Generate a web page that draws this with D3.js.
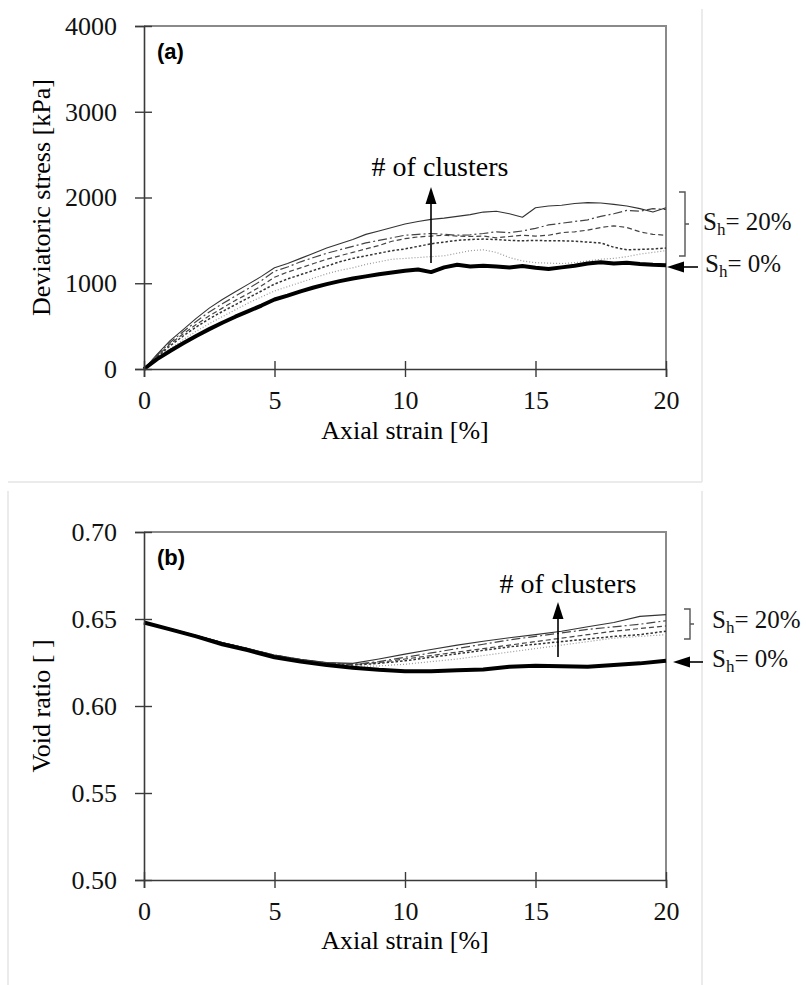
<!DOCTYPE html>
<html>
<head>
<meta charset="utf-8">
<script src="https://cdn.jsdelivr.net/npm/d3@7"></script>
<style>
body { margin: 0; background: #fff; }
svg { display: block; }
</style>
</head>
<body>
<svg id="canvas" width="806" height="985"></svg>
<script>
// strain values used for panel (a) curves
var strain_a = [0,0.5,1,1.5,2,2.5,3,3.5,4,4.5,5,5.5,6,6.5,7,7.5,8,8.5,9,9.5,10,
    10.5,11,11.5,12,12.5,13,13.5,14,14.5,15,15.5,16,16.5,17,17.5,18,18.5,19,19.5,20];

// deviatoric stress [kPa]
var stress_sh0 = [0,115,210,300,385,465,540,610,675,740,810,855,905,950,990,1025,1055,1080,1105,1125,1145,
    1160,1130,1185,1215,1195,1205,1195,1185,1200,1180,1165,1185,1205,1230,1245,1230,1240,1225,1215,1210];
var stress_c1 = [0,125,235,340,440,530,610,690,770,840,910,960,1010,1060,1110,1150,1180,1220,1250,1280,1290,
    1300,1310,1320,1350,1380,1390,1360,1300,1260,1240,1235,1230,1240,1260,1280,1290,1310,1340,1360,1380];
var stress_c2 = [0,140,270,385,490,585,670,750,830,910,990,1050,1100,1150,1200,1250,1290,1320,1350,1380,1400,
    1430,1460,1480,1500,1510,1515,1510,1500,1495,1500,1495,1495,1490,1480,1470,1420,1390,1395,1400,1410];
var stress_c3 = [0,150,290,410,520,620,710,800,880,970,1070,1130,1180,1230,1280,1320,1360,1400,1440,1490,1520,
    1540,1550,1560,1550,1545,1550,1530,1545,1560,1550,1560,1590,1600,1620,1650,1670,1650,1600,1570,1560];
var stress_c4 = [0,160,310,435,555,665,760,850,940,1030,1140,1190,1250,1300,1350,1390,1430,1470,1500,1530,1560,
    1570,1580,1570,1560,1565,1580,1600,1590,1610,1640,1680,1700,1720,1740,1780,1810,1850,1840,1870,1860];
var stress_c5 = [0,170,330,460,590,710,810,900,990,1080,1180,1230,1290,1350,1410,1460,1510,1570,1610,1650,1690,
    1720,1745,1760,1780,1800,1830,1840,1810,1770,1880,1900,1910,1930,1940,1935,1920,1900,1870,1830,1880];

// strain values used for panel (b) curves
var strain_b = [0,1,2,3,4,5,6,7,8,9,10,11,12,13,14,15,16,17,18,19,20];

// void ratio [ ]
var void_sh0 = [0.648,0.644,0.640,0.6355,0.632,0.628,0.6255,0.6235,0.622,0.6208,0.6200,
    0.6200,0.6205,0.621,0.6225,0.6232,0.6228,0.6225,0.6235,0.6245,0.626];
var void_c1 = [0.648,0.6442,0.6402,0.6362,0.6325,0.6288,0.6262,0.6242,0.6228,0.623,0.624,
    0.6255,0.627,0.629,0.631,0.633,0.635,0.637,0.639,0.640,0.641];
var void_c2 = [0.648,0.6443,0.6403,0.6363,0.6327,0.6290,0.6265,0.6245,0.6235,0.6245,0.626,
    0.628,0.630,0.632,0.634,0.6355,0.637,0.6385,0.640,0.641,0.643];
var void_c3 = [0.648,0.6444,0.6404,0.6364,0.6328,0.6291,0.6266,0.6247,0.6238,0.625,0.627,
    0.629,0.631,0.633,0.635,0.637,0.639,0.641,0.643,0.6445,0.646];
var void_c4 = [0.648,0.6444,0.6405,0.6365,0.6329,0.6292,0.6267,0.6248,0.624,0.6255,0.628,
    0.6305,0.633,0.6355,0.638,0.640,0.642,0.644,0.6455,0.647,0.649];
var void_c5 = [0.648,0.6445,0.6405,0.6365,0.633,0.6293,0.6268,0.625,0.6245,0.627,0.6298,
    0.6325,0.635,0.6372,0.6392,0.641,0.643,0.6455,0.648,0.6515,0.6525];

var x_ticks = [0,5,10,15,20];
var stress_ticks = [0,1000,2000,3000,4000];
var void_ticks = [0.50,0.55,0.60,0.65,0.70];

// line styles: light dotted, short dash, dashed, dash-dot, thin solid, thick
var styles = {
    sh0: {width: 4, dash: null, color: '#000'},
    c1: {width: 1.2, dash: '1,2', color: '#999'},
    c2: {width: 1.5, dash: '2.5,2', color: '#333'},
    c3: {width: 1.2, dash: '5,3', color: '#444'},
    c4: {width: 1.2, dash: '9,3,2,3', color: '#444'},
    c5: {width: 1.1, dash: null, color: '#333'}
};

var serif = "'Liberation Serif', 'Times New Roman', serif";
var svg = d3.select('#canvas');

// faint frames around the two panels
svg.append('line').attr('x1', 702).attr('x2', 702).attr('y1', 9).attr('y2', 482)
    .attr('stroke', '#e4e4e4').attr('stroke-width', 1.5);
svg.append('line').attr('x1', 8).attr('x2', 702).attr('y1', 482).attr('y2', 482)
    .attr('stroke', '#e4e4e4').attr('stroke-width', 1.5);
svg.append('line').attr('x1', 8).attr('x2', 8).attr('y1', 491).attr('y2', 985)
    .attr('stroke', '#e4e4e4').attr('stroke-width', 1.5);
svg.append('line').attr('x1', 702).attr('x2', 702).attr('y1', 491).attr('y2', 985)
    .attr('stroke', '#e4e4e4').attr('stroke-width', 1.5);

draw_panel({
    top: 26, bottom: 369, left: 144, right: 666,
    x: strain_a, domain: [0, 4000], ticks: stress_ticks, fmt: d3.format('d'),
    series: [['c1', stress_c1], ['c2', stress_c2], ['c3', stress_c3], ['c4', stress_c4], ['c5', stress_c5], ['sh0', stress_sh0]],
    tag: '(a)', y_title: 'Deviatoric stress [kPa]', x_title_y: 439
});

draw_panel({
    top: 532, bottom: 880, left: 144, right: 666,
    x: strain_b, domain: [0.50, 0.70], ticks: void_ticks, fmt: d3.format('.2f'),
    series: [['c1', void_c1], ['c2', void_c2], ['c3', void_c3], ['c4', void_c4], ['c5', void_c5], ['sh0', void_sh0]],
    tag: '(b)', y_title: 'Void ratio [ ]', x_title_y: 949
});

// annotations panel (a)
clusters_note(440, 176, 431, 263, 187);
bracket(685, 192, 256);
sh_label(703, 230, '20%');
sh_label(705, 272, '0%');
left_arrow(698, 667, 267);

// annotations panel (b)
clusters_note(568, 593, 558, 657, 602);
bracket(690, 609, 639);
sh_label(712, 628, '20%');
sh_label(712, 667, '0%');
left_arrow(703, 673, 662);

function draw_panel(p){
    var x_scale = d3.scaleLinear().domain([0, 20]).range([p.left, p.right]);
    var y_scale = d3.scaleLinear().domain(p.domain).range([p.bottom, p.top]);
    var g = svg.append('g');

    // top and right edges of the plot box
    g.append('path')
        .attr('d', 'M' + p.left + ',' + p.top + 'H' + p.right + 'V' + p.bottom)
        .attr('fill', 'none').attr('stroke', '#8a8a8a').attr('stroke-width', 2);

    var line = d3.line()
        .x(function(d){ return x_scale(d[0]); })
        .y(function(d){ return y_scale(d[1]); });

    p.series.forEach(function(s){
        var st = styles[s[0]];
        var pts = p.x.map(function(v, i){ return [v, s[1][i]]; });
        g.append('path').datum(pts)
            .attr('d', line)
            .attr('fill', 'none')
            .attr('stroke', st.color)
            .attr('stroke-width', st.width)
            .attr('stroke-linejoin', 'round')
            .attr('stroke-dasharray', st.dash);
    });

    var x_axis = g.append('g').attr('transform', 'translate(0,' + p.bottom + ')')
        .call(d3.axisBottom(x_scale).tickValues(x_ticks).tickSize(8).tickPadding(14));
    x_axis.selectAll('.tick line').attr('y1', -8);
    var y_axis = g.append('g').attr('transform', 'translate(' + p.left + ',0)')
        .call(d3.axisLeft(y_scale).tickValues(p.ticks).tickFormat(p.fmt).tickSize(9).tickPadding(18));
    y_axis.selectAll('.tick line').attr('x1', 8);
    [x_axis, y_axis].forEach(function(a){
        a.attr('font-family', null).attr('font-size', null);
        a.selectAll('.tick text')
            .style('font-family', serif)
            .style('font-size', '26px')
            .attr('fill', '#111');
        a.select('.domain').attr('stroke', '#3a3a3a').attr('stroke-width', 1.6);
        a.selectAll('.tick line').attr('stroke', '#3a3a3a').attr('stroke-width', 1.4);
    });

    g.append('text').attr('x', p.left + 13).attr('y', p.top + 33)
        .attr('font-family', "'Liberation Sans', Arial, sans-serif").attr('font-weight', 'bold')
        .attr('font-size', 22).text(p.tag);

    g.append('text').attr('transform', 'translate(50,' + ((p.top + p.bottom) / 2) + ') rotate(-90)')
        .attr('text-anchor', 'middle').style('font-family', serif).attr('font-size', 26)
        .text(p.y_title);

    g.append('text').attr('x', (p.left + p.right) / 2).attr('y', p.x_title_y)
        .attr('text-anchor', 'middle').style('font-family', serif).attr('font-size', 26)
        .text('Axial strain [%]');
}

function clusters_note(tx, ty, ax, ay0, ay1){
    svg.append('text').attr('x', tx).attr('y', ty).attr('text-anchor', 'middle')
        .style('font-family', serif).attr('font-size', 28).text('# of clusters');
    svg.append('line').attr('x1', ax).attr('x2', ax).attr('y1', ay0).attr('y2', ay1 + 14)
        .attr('stroke', '#000').attr('stroke-width', 1.6);
    svg.append('path').attr('d', 'M' + ax + ',' + ay1 + 'L' + (ax - 5.5) + ',' + (ay1 + 17) + 'L' + (ax + 5.5) + ',' + (ay1 + 17) + 'Z')
        .attr('fill', '#000');
}

function bracket(x, y0, y1){
    var ym = (y0 + y1) / 2;
    svg.append('path')
        .attr('d', 'M' + (x - 6) + ',' + y0 + 'H' + x + 'V' + y1 + 'H' + (x - 6) + 'M' + x + ',' + ym + 'H' + (x + 4))
        .attr('fill', 'none').attr('stroke', '#555').attr('stroke-width', 1.4);
}

function sh_label(x, y, val){
    var t = svg.append('text').attr('x', x).attr('y', y)
        .style('font-family', serif).attr('font-size', 25).attr('fill', '#111');
    t.append('tspan').text('S');
    t.append('tspan').attr('font-size', 17).attr('dy', 5).text('h');
    t.append('tspan').attr('dy', -5).text('= ' + val);
}

function left_arrow(x0, x1, y){
    svg.append('line').attr('x1', x0).attr('x2', x1 + 14).attr('y1', y).attr('y2', y)
        .attr('stroke', '#000').attr('stroke-width', 1.6);
    svg.append('path').attr('d', 'M' + x1 + ',' + y + 'L' + (x1 + 17) + ',' + (y - 5.5) + 'L' + (x1 + 17) + ',' + (y + 5.5) + 'Z')
        .attr('fill', '#000');
}
</script>
</body>
</html>
